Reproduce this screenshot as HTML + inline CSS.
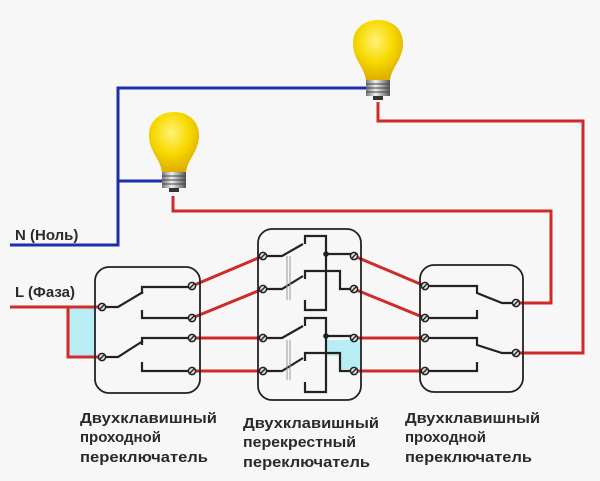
<!DOCTYPE html>
<html><head><meta charset="utf-8"><style>
html,body{margin:0;padding:0;background:#f7f7f7;}
svg{display:block}
text{font-family:"Liberation Sans",sans-serif;font-weight:bold;font-size:15px;fill:#2a2a2a}
</style></head><body>
<svg width="600" height="481" viewBox="0 0 600 481" xmlns="http://www.w3.org/2000/svg">
<defs>
<radialGradient id="bulb" cx="0.45" cy="0.35" r="0.7">
<stop offset="0" stop-color="#fff27a"/><stop offset="0.5" stop-color="#f7d900"/><stop offset="1" stop-color="#d9a800"/>
</radialGradient>
<linearGradient id="base" x1="0" x2="1"><stop offset="0" stop-color="#777"/><stop offset="0.4" stop-color="#eee"/><stop offset="1" stop-color="#555"/></linearGradient>
<g id="term"><circle r="3.6" fill="#ddd" stroke="#222" stroke-width="1.5"/><line x1="-2.5" y1="2.5" x2="2.5" y2="-2.5" stroke="#222" stroke-width="1.3"/></g>
<g id="lamp">
<path d="M-12,32 C-14,18 -25,12 -25,-5 C-25,-20 -13,-28 0,-28 C13,-28 25,-20 25,-5 C25,12 14,18 12,32 Z" fill="url(#bulb)"/>
<rect x="-12" y="32" width="24" height="16" fill="url(#base)"/>
<g stroke="#444" stroke-width="1"><line x1="-12" y1="36" x2="12" y2="36"/><line x1="-12" y1="40" x2="12" y2="40"/><line x1="-12" y1="44" x2="12" y2="44"/></g>
<rect x="-5" y="48" width="10" height="4" fill="#333"/>
</g>
</defs>
<rect width="600" height="481" fill="#f7f7f7"/>
<!-- blue -->
<g fill="none" stroke="#1c2fa8" stroke-width="3">
<polyline points="10,245 118,245 118,88 368,88"/>
<line x1="118" y1="181" x2="164" y2="181"/>
</g>
<!-- red -->
<g fill="none" stroke="#d02b2b" stroke-width="3">
<polyline points="173,196 173,211 551,211 551,303 516,303"/>
<polyline points="378,102 378,121 583,121 583,353 516,353"/>
<polyline points="10,307 102,307"/>
<polyline points="68,307 68,357 102,357"/>
<line x1="192" y1="286" x2="263" y2="256"/>
<line x1="192" y1="318" x2="263" y2="289"/>
<line x1="192" y1="338" x2="263" y2="338"/>
<line x1="192" y1="371" x2="263" y2="371"/>
<line x1="354" y1="256" x2="425" y2="286"/>
<line x1="354" y1="289" x2="425" y2="318"/>
<line x1="354" y1="338" x2="425" y2="338"/>
<line x1="354" y1="371" x2="425" y2="371"/>
</g>
<rect x="69.5" y="308.5" width="25" height="47" fill="#b8eef3"/>
<path d="M327,340 L360,340 L360,369 L340,369 L340,356 L327,356 Z" fill="#b8eef3"/>
<!-- boxes -->
<g fill="none" stroke="#222" stroke-width="1.8">
<rect x="95" y="267" width="105" height="126" rx="14"/>
<rect x="258" y="229" width="103" height="171" rx="14"/>
<rect x="420" y="265" width="103" height="127" rx="14"/>
</g>
<!-- left box internals -->
<g fill="none" stroke="#222" stroke-width="2.2">
<polyline points="102,307 118,307 143,292"/>
<polyline points="142,294 142,287 190,287"/>
<polyline points="142,310 142,318 190,318"/>
<polyline points="102,357 118,357 143,341"/>
<polyline points="142,345 142,338 190,338"/>
<polyline points="142,362 142,371 190,371"/>
</g>
<!-- middle box internals -->
<g fill="none" stroke="#222" stroke-width="2.2">
<polyline points="263,256 282,256 303,244"/>
<polyline points="305,244 305,236 326,236 326,310 305,310 305,300"/>
<polyline points="326,254 354,254"/>
<polyline points="263,289 282,289 303,276"/>
<polyline points="305,279 305,271 340,271 340,289 354,289"/>
<polyline points="263,338 282,338 303,326"/>
<polyline points="305,326 305,318 326,318 326,392 305,392 305,382"/>
<polyline points="326,336 354,336"/>
<polyline points="263,371 282,371 303,358"/>
<polyline points="305,361 305,353 340,353 340,371 354,371"/>
</g>
<circle cx="326" cy="254" r="2.8" fill="#222"/>
<circle cx="326" cy="336" r="2.8" fill="#222"/>
<g stroke="#999" stroke-width="1"><line x1="287" y1="256" x2="287" y2="300"/><line x1="290" y1="256" x2="290" y2="300"/>
<line x1="287" y1="340" x2="287" y2="380"/><line x1="290" y1="340" x2="290" y2="380"/></g>
<!-- right box internals -->
<g fill="none" stroke="#222" stroke-width="2.2">
<polyline points="425,286 477,286 477,293 502,303 516,303"/>
<polyline points="477,310 477,318 425,318"/>
<polyline points="425,338 477,338 477,345 502,353 516,353"/>
<polyline points="477,362 477,371 425,371"/>
</g>
<!-- terminals -->
<use href="#term" x="102" y="307"/><use href="#term" x="102" y="357"/>
<use href="#term" x="192" y="286"/><use href="#term" x="192" y="318"/><use href="#term" x="192" y="338"/><use href="#term" x="192" y="371"/>
<use href="#term" x="263" y="256"/><use href="#term" x="263" y="289"/><use href="#term" x="263" y="338"/><use href="#term" x="263" y="371"/>
<use href="#term" x="354" y="256"/><use href="#term" x="354" y="289"/><use href="#term" x="354" y="338"/><use href="#term" x="354" y="371"/>
<use href="#term" x="425" y="286"/><use href="#term" x="425" y="318"/><use href="#term" x="425" y="338"/><use href="#term" x="425" y="371"/>
<use href="#term" x="516" y="303"/><use href="#term" x="516" y="353"/>
<!-- lamps -->
<use href="#lamp" x="174" y="140"/>
<use href="#lamp" x="378" y="48"/>
<!-- labels -->
<text x="15" y="240">N (Ноль)</text>
<text x="15" y="297">L (Фаза)</text>
<text x="80" y="423" textLength="137" lengthAdjust="spacingAndGlyphs">Двухклавишный</text>
<text x="80" y="442">проходной</text>
<text x="80" y="462" textLength="128" lengthAdjust="spacingAndGlyphs">переключатель</text>
<text x="243" y="428" textLength="136" lengthAdjust="spacingAndGlyphs">Двухклавишный</text>
<text x="243" y="447" textLength="113" lengthAdjust="spacingAndGlyphs">перекрестный</text>
<text x="243" y="467" textLength="127" lengthAdjust="spacingAndGlyphs">переключатель</text>
<text x="405" y="423" textLength="135" lengthAdjust="spacingAndGlyphs">Двухклавишный</text>
<text x="405" y="442">проходной</text>
<text x="405" y="462" textLength="127" lengthAdjust="spacingAndGlyphs">переключатель</text>
</svg>
</body></html>
